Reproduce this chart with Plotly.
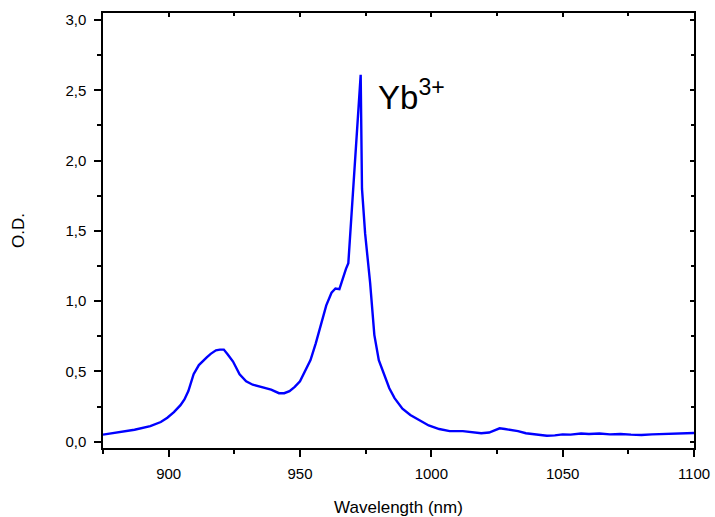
import plotly.graph_objects as go

wavelength = [875, 879, 883, 887, 893, 897, 899.5, 902, 904.5, 906, 907.5, 909.5, 911.5, 913, 914.5,
              916, 918, 919.5, 921, 922.5, 924.5, 927, 929.5, 932, 935, 937.5, 939, 942, 944, 946,
              948, 950, 952, 954, 956, 958, 960, 962, 963.5, 965, 966, 967.5, 968.4, 969.1, 970.3,
              971.6, 972.9, 973.1, 973.6, 974.8, 976.7, 978.3, 980, 982, 984, 986, 989, 992, 995,
              999, 1003, 1007, 1012, 1016, 1019, 1022, 1024, 1026, 1028, 1030, 1033, 1036, 1040,
              1044, 1047, 1050, 1053, 1057, 1060, 1064, 1068, 1072, 1076, 1080, 1084, 1088, 1092,
              1096, 1100]
od = [0.05, 0.062, 0.07, 0.085, 0.11, 0.14, 0.17, 0.21, 0.26, 0.30, 0.36, 0.48, 0.545, 0.575, 0.60,
      0.625, 0.65, 0.655, 0.655, 0.62, 0.57, 0.48, 0.43, 0.405, 0.39, 0.38, 0.37, 0.345, 0.345, 0.36,
      0.39, 0.43, 0.50, 0.58, 0.70, 0.83, 0.97, 1.06, 1.09, 1.085, 1.15, 1.23, 1.27, 1.48, 1.84,
      2.24, 2.61, 2.61, 1.80, 1.48, 1.13, 0.76, 0.58, 0.48, 0.38, 0.31, 0.235, 0.19, 0.16,
      0.115, 0.09, 0.075, 0.075, 0.065, 0.06, 0.065, 0.08, 0.095, 0.09, 0.085, 0.075, 0.06, 0.05,
      0.042, 0.045, 0.052, 0.05, 0.058, 0.055, 0.058, 0.052, 0.055, 0.05, 0.048, 0.052, 0.055, 0.058,
      0.06, 0.062]

x_range = [875, 1100]
y_range = [-0.045, 3.05]

fig = go.Figure()
fig.add_trace(go.Scatter(x=wavelength, y=od, mode="lines",
                         line=dict(color="#0000FF", width=2.4), showlegend=False))
fig.add_trace(go.Scatter(x=[x_range[0]], y=[y_range[0]], mode="markers", xaxis="x2", yaxis="y2",
                         marker=dict(opacity=0), showlegend=False, hoverinfo="skip"))

font_family = "Liberation Sans"
axis_common = dict(showline=True, linecolor="black", linewidth=1.5, showgrid=False, zeroline=False,
                   ticks="outside", tickcolor="black", tickwidth=1.5, ticklen=7, automargin=False,
                   tickfont=dict(family=font_family, size=15, color="black"))

fig.update_layout(
    width=715, height=517,
    margin=dict(l=103, r=21, t=13, b=69),
    paper_bgcolor="white", plot_bgcolor="white",
    separators=",.",
    font=dict(family=font_family, color="black"),
    xaxis=dict(range=x_range, dtick=50, tick0=900, mirror=True, ticklabelstandoff=4,
               minor=dict(dtick=25, tick0=875, ticks="outside", ticklen=4, tickcolor="black", tickwidth=1.5),
               title=dict(text="Wavelength (nm)", font=dict(family=font_family, size=17), standoff=25),
               **axis_common),
    yaxis=dict(range=y_range, dtick=0.5, tick0=0, tickformat=".1f", mirror=True, ticklabelstandoff=5,
               minor=dict(dtick=0.25, tick0=0, ticks="outside", ticklen=4, tickcolor="black", tickwidth=1.5),
               title=dict(text="O.D.", font=dict(family=font_family, size=17), standoff=36),
               **axis_common),
    xaxis2=dict(overlaying="x", side="top", range=x_range, dtick=50, tick0=900, showticklabels=False,
                showgrid=False, zeroline=False, showline=False, ticks="inside", ticklen=4, automargin=False,
                tickcolor="black", tickwidth=1.5,
                minor=dict(dtick=25, tick0=875, ticks="inside", ticklen=3, tickcolor="black", tickwidth=1.5)),
    yaxis2=dict(overlaying="y", side="right", range=y_range, dtick=0.5, tick0=0, showticklabels=False,
                showgrid=False, zeroline=False, showline=False, ticks="inside", ticklen=4, automargin=False,
                tickcolor="black", tickwidth=1.5,
                minor=dict(dtick=0.25, tick0=0, ticks="inside", ticklen=3, tickcolor="black", tickwidth=1.5)),
)

fig.add_annotation(x=979.0, y=2.30, xref="x", yref="y", xanchor="left", yanchor="bottom",
                   text="Yb<sup>3+</sup>", showarrow=False,
                   font=dict(family=font_family, size=33, color="black"))

fig.write_html("out.html", config={"displayModeBar": False},
               post_script="document.body.style.margin='0';document.body.style.overflow='hidden';")
